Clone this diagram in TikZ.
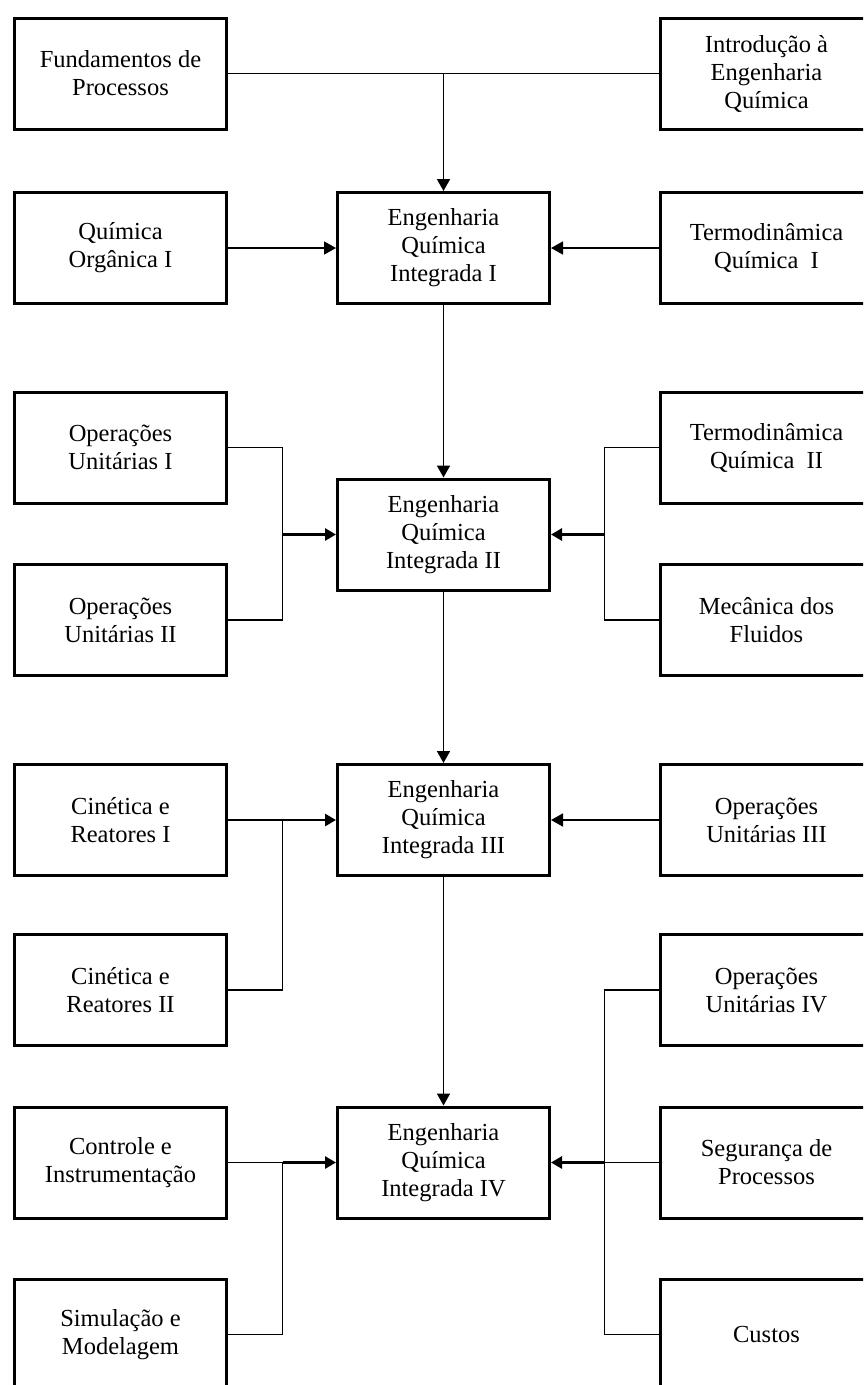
\documentclass[tikz,border=0pt]{standalone}
\usepackage{fontspec}
\setmainfont{Liberation Serif}
\usetikzlibrary{arrows.meta}
\begin{document}
\begin{tikzpicture}[x=1pt,y=1pt,
  disc/.style={draw,line width=3pt,minimum width=212pt,minimum height=111pt,inner sep=0pt,align=center,font=\fontsize{24.5}{28}\selectfont},
  link/.style={line width=1.7pt},
  feed/.style={line width=1.7pt,-{Triangle[length=12pt,width=13pt]}},
  merge/.style={line width=2.8pt,-{Triangle[length=11pt,width=12pt]}}]
\useasboundingbox (0,0) rectangle (863,-1385);
\clip (0,0) rectangle (863,-1385);
\node[disc] (fund) at (120.5,-73.5) {Fundamentos de\\Processos};
\node[disc] (intro) at (766.5,-73.5) {Introdução à\\Engenharia\\Química};
\node[disc] (org) at (120.5,-248) {Química\\Orgânica I};
\node[disc] (eqi1) at (443.5,-248) {Engenharia\\Química\\Integrada I};
\node[disc] (termo1) at (766.5,-248) {Termodinâmica\\Química~ I};
\node[disc] (op1) at (120.5,-447.5) {Operações\\Unitárias I};
\node[disc] (op2) at (120.5,-620) {Operações\\Unitárias II};
\node[disc] (eqi2) at (443.5,-534.5) {Engenharia\\Química\\Integrada II};
\node[disc] (termo2) at (766.5,-447.5) {Termodinâmica\\Química~ II};
\node[disc] (mec) at (766.5,-620) {Mecânica dos\\Fluidos};
\node[disc] (cin1) at (120.5,-820) {Cinética e\\Reatores I};
\node[disc] (cin2) at (120.5,-990) {Cinética e\\Reatores II};
\node[disc] (eqi3) at (443.5,-820) {Engenharia\\Química\\Integrada III};
\node[disc] (op3) at (766.5,-820) {Operações\\Unitárias III};
\node[disc] (op4) at (766.5,-990) {Operações\\Unitárias IV};
\node[disc] (ctrl) at (120.5,-1162.5) {Controle e\\Instrumentação};
\node[disc] (sim) at (120.5,-1334.5) {Simulação e\\Modelagem};
\node[disc] (eqi4) at (443.5,-1162.5) {Engenharia\\Química\\Integrada IV};
\node[disc] (seg) at (766.5,-1162.5) {Segurança de\\Processos};
\node[disc] (cust) at (766.5,-1334.5) {Custos};
\coordinate (jl2) at (282.5,-534.5);
\coordinate (jr2) at (604.5,-534.5);
\coordinate (jl3) at (282.5,-820);
\coordinate (jl4) at (282.5,-1162.5);
\coordinate (jr4) at (604.5,-1162.5);
\draw[link] (fund) -- (intro);
\draw[feed] (fund -| eqi1) -- (eqi1);
\draw[feed] (org) -- (eqi1);
\draw[feed] (termo1) -- (eqi1);
\draw[feed] (eqi1) -- (eqi2);
\draw[link] (op1.east) -| (jl2) |- (op2.east);
\draw[merge] (jl2) -- (eqi2);
\draw[link] (termo2.west) -| (jr2) |- (mec.west);
\draw[merge] (jr2) -- (eqi2);
\draw[feed] (eqi2) -- (eqi3);
\draw[link] (cin1.east) -- (jl3) |- (cin2.east);
\draw[merge] (jl3) -- (eqi3);
\draw[feed] (op3) -- (eqi3);
\draw[feed] (eqi3) -- (eqi4);
\draw[link] (ctrl.east) -- (jl4) |- (sim.east);
\draw[merge] (jl4) -- (eqi4);
\draw[link] (op4.west) -| (jr4) |- (cust.west);
\draw[link] (seg.west) -- (jr4);
\draw[merge] (jr4) -- (eqi4);
\end{tikzpicture}
\end{document}
